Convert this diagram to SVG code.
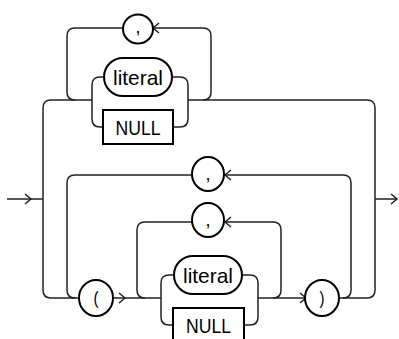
<svg xmlns="http://www.w3.org/2000/svg" width="399" height="339" viewBox="0 0 399 339">
<defs>
<style>
.ln{fill:none;stroke:#222;stroke-width:1.5}
.bx{fill:#fff;stroke:#000;stroke-width:2}
.ah{fill:none;stroke:#222;stroke-width:1.5}
.t{font-family:"Liberation Sans",Arial,sans-serif;font-size:21px;fill:#000;text-anchor:middle}
.p{font-family:"Liberation Sans",Arial,sans-serif;font-size:18px;fill:#000;text-anchor:middle}
</style>
</defs>
<rect width="399" height="339" fill="#fff"/>
<g id="connectors">
<path class="ln" d="M7,199 H43"/>
<path class="ah" d="M25,194 L31,199 L25,204"/>
<path class="ln" d="M92,100 H51 Q43,100 43,108 V290 Q43,298 51,298 H79"/>
<path class="ln" d="M104,77 H100 Q92,77 92,85 V119 Q92,127 100,127 H103"/>
<path class="ln" d="M172,77 H180 Q188,77 188,85 V119 Q188,127 180,127 H173"/>
<path class="ln" d="M188,100 H367 Q375,100 375,108 V290 Q375,298 367,298 H339"/>
<path class="ln" d="M375,199 H397"/>
<path class="ah" d="M391,194 L397,199 L391,204"/>
<path class="ln" d="M203,100 Q211,100 211,92 V36 Q211,28 203,28 H153"/>
<path class="ah" d="M159,23 L153,28 L159,33"/>
<path class="ln" d="M123,28 H75 Q67,28 67,36 V92 Q67,100 75,100"/>
<path class="ln" d="M113,298 H161"/>
<path class="ah" d="M119,293 L125,298 L119,303"/>
<path class="ln" d="M192,175 H75 Q67,175 67,183 V290 Q67,298 75,298"/>
<path class="ln" d="M192,222 H145 Q137,222 137,230 V290 Q137,298 145,298"/>
<path class="ln" d="M174,275 H169 Q161,275 161,283 V317 Q161,325 169,325 H173"/>
<path class="ln" d="M242,275 H250 Q258,275 258,283 V317 Q258,325 250,325 H244"/>
<path class="ln" d="M258,298 H306"/>
<path class="ah" d="M300,293 L306,298 L300,303"/>
<path class="ln" d="M273,298 Q281,298 281,290 V230 Q281,222 273,222 H225"/>
<path class="ah" d="M231,217 L225,222 L231,227"/>
<path class="ln" d="M343,298 Q351,298 351,290 V183 Q351,175 343,175 H225"/>
<path class="ah" d="M231,170 L225,175 L231,180"/>
</g>
<g id="comma_top">
<ellipse class="bx" cx="138" cy="29" rx="15" ry="14.5"/>
<text class="p" x="138" y="33">,</text>
</g>
<g id="literal_top">
<rect class="bx" x="104" y="58" width="68" height="38" rx="19"/>
<text class="t" x="138" y="85" textLength="50" lengthAdjust="spacingAndGlyphs">literal</text>
</g>
<g id="null_top">
<rect class="bx" x="103" y="110" width="70" height="34"/>
<text class="t" x="138" y="135" textLength="45" lengthAdjust="spacingAndGlyphs">NULL</text>
</g>
<g id="comma_outer">
<ellipse class="bx" cx="208" cy="174" rx="16" ry="17"/>
<text class="p" x="208" y="180">,</text>
</g>
<g id="comma_inner">
<ellipse class="bx" cx="208" cy="220" rx="16" ry="17"/>
<text class="p" x="208" y="226">,</text>
</g>
<g id="lparen">
<ellipse class="bx" cx="96" cy="298" rx="17" ry="18"/>
<text class="p" x="96" y="304" textLength="5" lengthAdjust="spacingAndGlyphs">(</text>
</g>
<g id="literal_bottom">
<rect class="bx" x="174" y="256" width="68" height="38" rx="19"/>
<text class="t" x="208" y="283" textLength="50" lengthAdjust="spacingAndGlyphs">literal</text>
</g>
<g id="null_bottom">
<rect class="bx" x="173" y="308" width="71" height="36"/>
<text class="t" x="208.5" y="333" textLength="45" lengthAdjust="spacingAndGlyphs">NULL</text>
</g>
<g id="rparen">
<ellipse class="bx" cx="322" cy="298" rx="17" ry="18"/>
<text class="p" x="322" y="304" textLength="5" lengthAdjust="spacingAndGlyphs">)</text>
</g>
</svg>
